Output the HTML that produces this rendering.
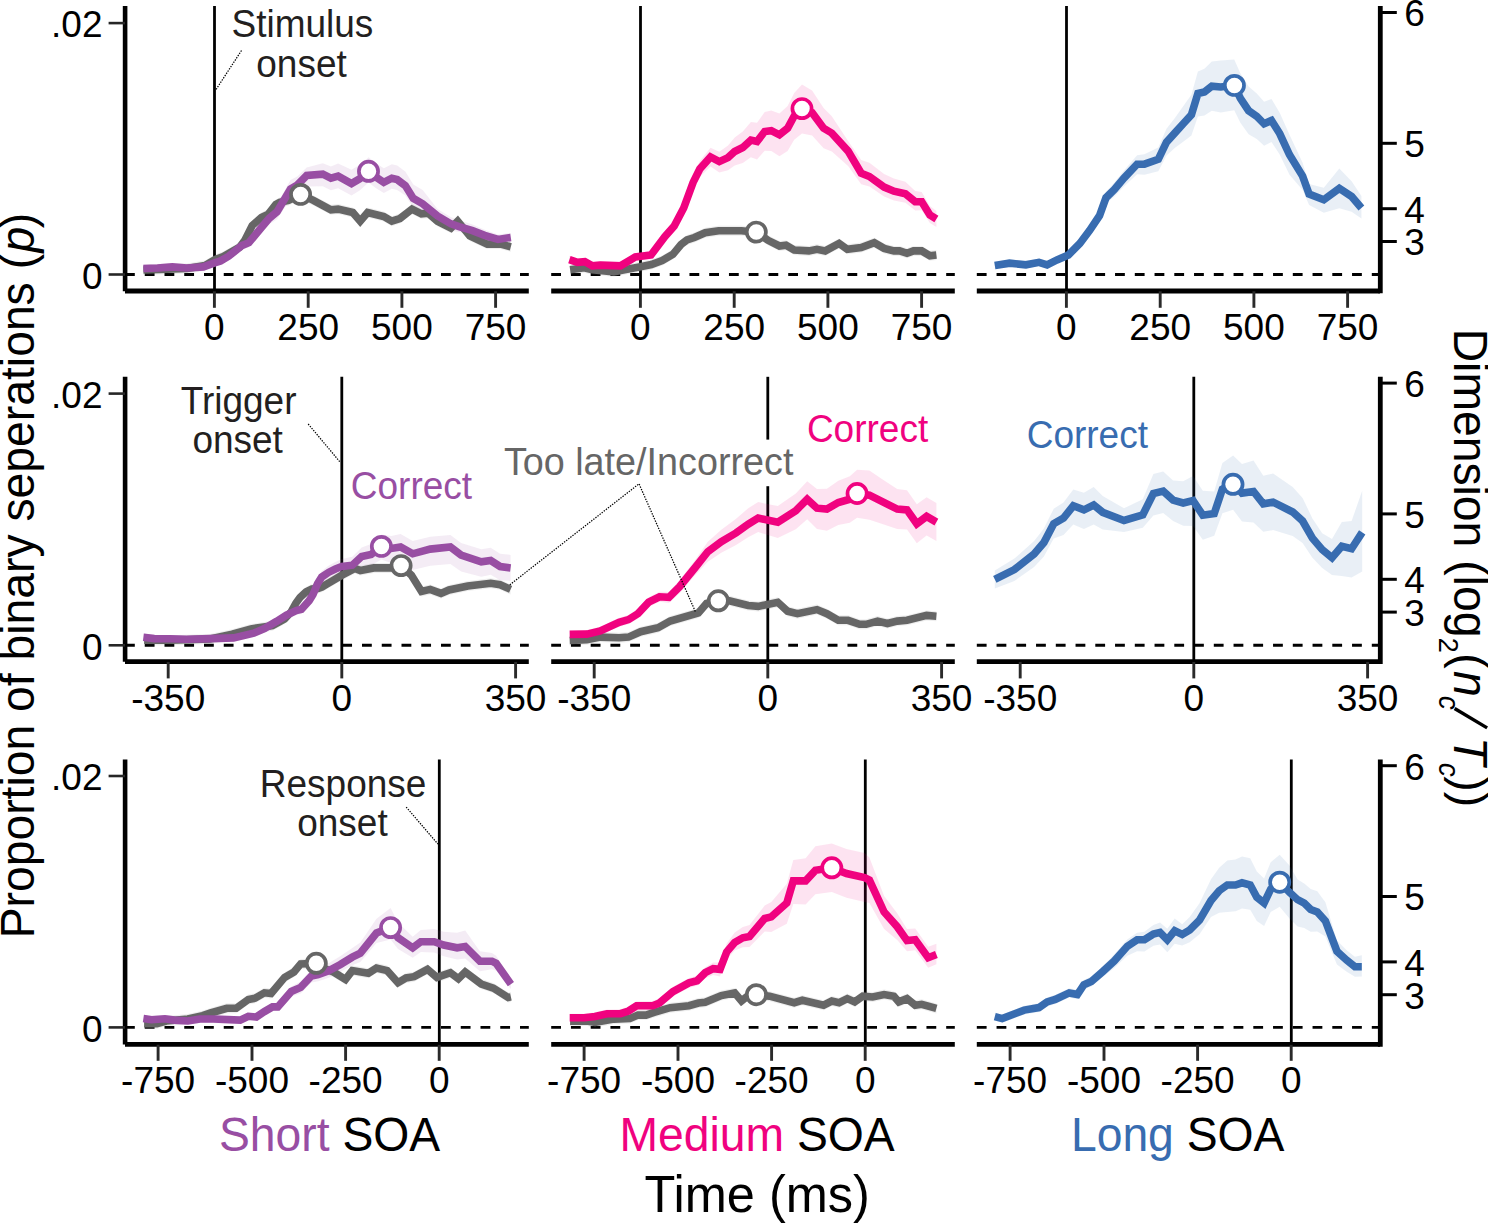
<!DOCTYPE html>
<html><head><meta charset="utf-8"><style>
html,body{margin:0;padding:0;background:#fff;}
svg{display:block;}
text{font-family:"Liberation Sans",sans-serif;}
</style></head><body>
<svg width="1488" height="1223" viewBox="0 0 1488 1223">
<rect width="1488" height="1223" fill="#fff"/>

<line x1="125.1" y1="6.0" x2="125.1" y2="291.2" stroke="#000" stroke-width="4.6"/>
<line x1="108.6" y1="23.1" x2="125" y2="23.1" stroke="#262626" stroke-width="2.6"/>
<line x1="108.6" y1="274.5" x2="125" y2="274.5" stroke="#262626" stroke-width="2.6"/>
<text x="102.5" y="37.3" font-size="37" text-anchor="end">.02</text>
<text x="102.5" y="288.7" font-size="37" text-anchor="end">0</text>
<line x1="1380.3" y1="6.0" x2="1380.3" y2="293.3" stroke="#000" stroke-width="4.8"/>
<line x1="1382" y1="12.5" x2="1396.8" y2="12.5" stroke="#000" stroke-width="3"/>
<text x="1404.2" y="26.3" font-size="37">6</text>
<line x1="1382" y1="143.3" x2="1396.8" y2="143.3" stroke="#000" stroke-width="3"/>
<text x="1404.2" y="157.1" font-size="37">5</text>
<line x1="1382" y1="208.7" x2="1396.8" y2="208.7" stroke="#000" stroke-width="3"/>
<text x="1404.2" y="222.5" font-size="37">4</text>
<line x1="1382" y1="241.5" x2="1396.8" y2="241.5" stroke="#000" stroke-width="3"/>
<text x="1404.2" y="255.3" font-size="37">3</text>
<line x1="125.0" y1="274.5" x2="528.8" y2="274.5" stroke="#000" stroke-width="2.9" stroke-dasharray="9.8 9.95"/>
<line x1="125.0" y1="291.0" x2="528.8" y2="291.0" stroke="#000" stroke-width="4.8"/>
<line x1="214.4" y1="291.3" x2="214.4" y2="307.8" stroke="#2a2a2a" stroke-width="2.9"/>
<text x="214.4" y="340.2" font-size="37" text-anchor="middle">0</text>
<line x1="308.2" y1="291.3" x2="308.2" y2="307.8" stroke="#2a2a2a" stroke-width="2.9"/>
<text x="308.2" y="340.2" font-size="37" text-anchor="middle">250</text>
<line x1="401.9" y1="291.3" x2="401.9" y2="307.8" stroke="#2a2a2a" stroke-width="2.9"/>
<text x="401.9" y="340.2" font-size="37" text-anchor="middle">500</text>
<line x1="495.6" y1="291.3" x2="495.6" y2="307.8" stroke="#2a2a2a" stroke-width="2.9"/>
<text x="495.6" y="340.2" font-size="37" text-anchor="middle">750</text>
<line x1="214.5" y1="6.0" x2="214.5" y2="291.0" stroke="#000" stroke-width="2.8"/>
<line x1="551.2" y1="274.5" x2="954.8" y2="274.5" stroke="#000" stroke-width="2.9" stroke-dasharray="9.8 9.95"/>
<line x1="551.2" y1="291.0" x2="954.8" y2="291.0" stroke="#000" stroke-width="4.8"/>
<line x1="640.4" y1="291.3" x2="640.4" y2="307.8" stroke="#2a2a2a" stroke-width="2.9"/>
<text x="640.4" y="340.2" font-size="37" text-anchor="middle">0</text>
<line x1="734.2" y1="291.3" x2="734.2" y2="307.8" stroke="#2a2a2a" stroke-width="2.9"/>
<text x="734.2" y="340.2" font-size="37" text-anchor="middle">250</text>
<line x1="827.9" y1="291.3" x2="827.9" y2="307.8" stroke="#2a2a2a" stroke-width="2.9"/>
<text x="827.9" y="340.2" font-size="37" text-anchor="middle">500</text>
<line x1="921.6" y1="291.3" x2="921.6" y2="307.8" stroke="#2a2a2a" stroke-width="2.9"/>
<text x="921.6" y="340.2" font-size="37" text-anchor="middle">750</text>
<line x1="640.5" y1="6.0" x2="640.5" y2="291.0" stroke="#000" stroke-width="2.8"/>
<line x1="976.8" y1="274.5" x2="1380.0" y2="274.5" stroke="#000" stroke-width="2.9" stroke-dasharray="9.8 9.95"/>
<line x1="976.8" y1="291.0" x2="1380.0" y2="291.0" stroke="#000" stroke-width="4.8"/>
<line x1="1066.4" y1="291.3" x2="1066.4" y2="307.8" stroke="#2a2a2a" stroke-width="2.9"/>
<text x="1066.4" y="340.2" font-size="37" text-anchor="middle">0</text>
<line x1="1160.2" y1="291.3" x2="1160.2" y2="307.8" stroke="#2a2a2a" stroke-width="2.9"/>
<text x="1160.2" y="340.2" font-size="37" text-anchor="middle">250</text>
<line x1="1253.9" y1="291.3" x2="1253.9" y2="307.8" stroke="#2a2a2a" stroke-width="2.9"/>
<text x="1253.9" y="340.2" font-size="37" text-anchor="middle">500</text>
<line x1="1347.6" y1="291.3" x2="1347.6" y2="307.8" stroke="#2a2a2a" stroke-width="2.9"/>
<text x="1347.6" y="340.2" font-size="37" text-anchor="middle">750</text>
<line x1="1066.5" y1="6.0" x2="1066.5" y2="291.0" stroke="#000" stroke-width="2.8"/>
<line x1="125.1" y1="376.8" x2="125.1" y2="661.8" stroke="#000" stroke-width="4.6"/>
<line x1="108.6" y1="393.6" x2="125" y2="393.6" stroke="#262626" stroke-width="2.6"/>
<line x1="108.6" y1="645.3" x2="125" y2="645.3" stroke="#262626" stroke-width="2.6"/>
<text x="102.5" y="407.8" font-size="37" text-anchor="end">.02</text>
<text x="102.5" y="659.5" font-size="37" text-anchor="end">0</text>
<line x1="1380.3" y1="376.8" x2="1380.3" y2="663.9" stroke="#000" stroke-width="4.8"/>
<line x1="1382" y1="383.1" x2="1396.8" y2="383.1" stroke="#000" stroke-width="3"/>
<text x="1404.2" y="396.9" font-size="37">6</text>
<line x1="1382" y1="513.9" x2="1396.8" y2="513.9" stroke="#000" stroke-width="3"/>
<text x="1404.2" y="527.7" font-size="37">5</text>
<line x1="1382" y1="579.3" x2="1396.8" y2="579.3" stroke="#000" stroke-width="3"/>
<text x="1404.2" y="593.1" font-size="37">4</text>
<line x1="1382" y1="612.1" x2="1396.8" y2="612.1" stroke="#000" stroke-width="3"/>
<text x="1404.2" y="625.9" font-size="37">3</text>
<line x1="125.0" y1="645.3" x2="528.8" y2="645.3" stroke="#000" stroke-width="2.9" stroke-dasharray="9.8 9.95"/>
<line x1="125.0" y1="661.6" x2="528.8" y2="661.6" stroke="#000" stroke-width="4.8"/>
<line x1="168.2" y1="661.9" x2="168.2" y2="678.4" stroke="#2a2a2a" stroke-width="2.9"/>
<text x="168.2" y="711.3" font-size="37" text-anchor="middle">-350</text>
<line x1="341.8" y1="661.9" x2="341.8" y2="678.4" stroke="#2a2a2a" stroke-width="2.9"/>
<text x="341.8" y="711.3" font-size="37" text-anchor="middle">0</text>
<line x1="515.6" y1="661.9" x2="515.6" y2="678.4" stroke="#2a2a2a" stroke-width="2.9"/>
<text x="515.6" y="711.3" font-size="37" text-anchor="middle">350</text>
<line x1="341.8" y1="376.8" x2="341.8" y2="661.6" stroke="#000" stroke-width="2.8"/>
<line x1="551.2" y1="645.3" x2="954.8" y2="645.3" stroke="#000" stroke-width="2.9" stroke-dasharray="9.8 9.95"/>
<line x1="551.2" y1="661.6" x2="954.8" y2="661.6" stroke="#000" stroke-width="4.8"/>
<line x1="594.2" y1="661.9" x2="594.2" y2="678.4" stroke="#2a2a2a" stroke-width="2.9"/>
<text x="594.2" y="711.3" font-size="37" text-anchor="middle">-350</text>
<line x1="767.8" y1="661.9" x2="767.8" y2="678.4" stroke="#2a2a2a" stroke-width="2.9"/>
<text x="767.8" y="711.3" font-size="37" text-anchor="middle">0</text>
<line x1="941.6" y1="661.9" x2="941.6" y2="678.4" stroke="#2a2a2a" stroke-width="2.9"/>
<text x="941.6" y="711.3" font-size="37" text-anchor="middle">350</text>
<line x1="767.8" y1="376.8" x2="767.8" y2="439.6" stroke="#000" stroke-width="2.8"/>
<line x1="767.8" y1="486.2" x2="767.8" y2="661.6" stroke="#000" stroke-width="2.8"/>
<line x1="976.8" y1="645.3" x2="1380.0" y2="645.3" stroke="#000" stroke-width="2.9" stroke-dasharray="9.8 9.95"/>
<line x1="976.8" y1="661.6" x2="1380.0" y2="661.6" stroke="#000" stroke-width="4.8"/>
<line x1="1020.2" y1="661.9" x2="1020.2" y2="678.4" stroke="#2a2a2a" stroke-width="2.9"/>
<text x="1020.2" y="711.3" font-size="37" text-anchor="middle">-350</text>
<line x1="1193.8" y1="661.9" x2="1193.8" y2="678.4" stroke="#2a2a2a" stroke-width="2.9"/>
<text x="1193.8" y="711.3" font-size="37" text-anchor="middle">0</text>
<line x1="1367.6" y1="661.9" x2="1367.6" y2="678.4" stroke="#2a2a2a" stroke-width="2.9"/>
<text x="1367.6" y="711.3" font-size="37" text-anchor="middle">350</text>
<line x1="1193.8" y1="376.8" x2="1193.8" y2="661.6" stroke="#000" stroke-width="2.8"/>
<line x1="125.1" y1="759.5" x2="125.1" y2="1044.6" stroke="#000" stroke-width="4.6"/>
<line x1="108.6" y1="776.0" x2="125" y2="776.0" stroke="#262626" stroke-width="2.6"/>
<line x1="108.6" y1="1027.4" x2="125" y2="1027.4" stroke="#262626" stroke-width="2.6"/>
<text x="102.5" y="790.2" font-size="37" text-anchor="end">.02</text>
<text x="102.5" y="1041.6" font-size="37" text-anchor="end">0</text>
<line x1="1380.3" y1="759.5" x2="1380.3" y2="1046.7" stroke="#000" stroke-width="4.8"/>
<line x1="1382" y1="765.7" x2="1396.8" y2="765.7" stroke="#000" stroke-width="3"/>
<text x="1404.2" y="779.5" font-size="37">6</text>
<line x1="1382" y1="896.5" x2="1396.8" y2="896.5" stroke="#000" stroke-width="3"/>
<text x="1404.2" y="910.3" font-size="37">5</text>
<line x1="1382" y1="961.9" x2="1396.8" y2="961.9" stroke="#000" stroke-width="3"/>
<text x="1404.2" y="975.7" font-size="37">4</text>
<line x1="1382" y1="994.7" x2="1396.8" y2="994.7" stroke="#000" stroke-width="3"/>
<text x="1404.2" y="1008.5" font-size="37">3</text>
<line x1="125.0" y1="1027.4" x2="528.8" y2="1027.4" stroke="#000" stroke-width="2.9" stroke-dasharray="9.8 9.95"/>
<line x1="125.0" y1="1044.4" x2="528.8" y2="1044.4" stroke="#000" stroke-width="4.8"/>
<line x1="158.1" y1="1044.7" x2="158.1" y2="1060.8" stroke="#2a2a2a" stroke-width="2.9"/>
<text x="158.1" y="1093.4" font-size="37" text-anchor="middle">-750</text>
<line x1="252.0" y1="1044.7" x2="252.0" y2="1060.8" stroke="#2a2a2a" stroke-width="2.9"/>
<text x="252.0" y="1093.4" font-size="37" text-anchor="middle">-500</text>
<line x1="345.6" y1="1044.7" x2="345.6" y2="1060.8" stroke="#2a2a2a" stroke-width="2.9"/>
<text x="345.6" y="1093.4" font-size="37" text-anchor="middle">-250</text>
<line x1="439.2" y1="1044.7" x2="439.2" y2="1060.8" stroke="#2a2a2a" stroke-width="2.9"/>
<text x="439.2" y="1093.4" font-size="37" text-anchor="middle">0</text>
<line x1="439.3" y1="759.5" x2="439.3" y2="1044.4" stroke="#000" stroke-width="2.8"/>
<line x1="551.2" y1="1027.4" x2="954.8" y2="1027.4" stroke="#000" stroke-width="2.9" stroke-dasharray="9.8 9.95"/>
<line x1="551.2" y1="1044.4" x2="954.8" y2="1044.4" stroke="#000" stroke-width="4.8"/>
<line x1="584.1" y1="1044.7" x2="584.1" y2="1060.8" stroke="#2a2a2a" stroke-width="2.9"/>
<text x="584.1" y="1093.4" font-size="37" text-anchor="middle">-750</text>
<line x1="678.0" y1="1044.7" x2="678.0" y2="1060.8" stroke="#2a2a2a" stroke-width="2.9"/>
<text x="678.0" y="1093.4" font-size="37" text-anchor="middle">-500</text>
<line x1="771.6" y1="1044.7" x2="771.6" y2="1060.8" stroke="#2a2a2a" stroke-width="2.9"/>
<text x="771.6" y="1093.4" font-size="37" text-anchor="middle">-250</text>
<line x1="865.2" y1="1044.7" x2="865.2" y2="1060.8" stroke="#2a2a2a" stroke-width="2.9"/>
<text x="865.2" y="1093.4" font-size="37" text-anchor="middle">0</text>
<line x1="865.3" y1="759.5" x2="865.3" y2="1044.4" stroke="#000" stroke-width="2.8"/>
<line x1="976.8" y1="1027.4" x2="1380.0" y2="1027.4" stroke="#000" stroke-width="2.9" stroke-dasharray="9.8 9.95"/>
<line x1="976.8" y1="1044.4" x2="1380.0" y2="1044.4" stroke="#000" stroke-width="4.8"/>
<line x1="1010.1" y1="1044.7" x2="1010.1" y2="1060.8" stroke="#2a2a2a" stroke-width="2.9"/>
<text x="1010.1" y="1093.4" font-size="37" text-anchor="middle">-750</text>
<line x1="1104.0" y1="1044.7" x2="1104.0" y2="1060.8" stroke="#2a2a2a" stroke-width="2.9"/>
<text x="1104.0" y="1093.4" font-size="37" text-anchor="middle">-500</text>
<line x1="1197.6" y1="1044.7" x2="1197.6" y2="1060.8" stroke="#2a2a2a" stroke-width="2.9"/>
<text x="1197.6" y="1093.4" font-size="37" text-anchor="middle">-250</text>
<line x1="1291.2" y1="1044.7" x2="1291.2" y2="1060.8" stroke="#2a2a2a" stroke-width="2.9"/>
<text x="1291.2" y="1093.4" font-size="37" text-anchor="middle">0</text>
<line x1="1291.3" y1="759.5" x2="1291.3" y2="1044.4" stroke="#000" stroke-width="2.8"/>
<polygon points="143.4,265.0 160.0,264.5 187.0,263.5 205.0,260.5 215.3,254.5 223.3,251.5 232.0,246.5 239.8,242.0 245.0,235.0 252.2,220.5 261.4,212.5 267.9,209.5 275.8,199.5 279.7,197.4 288.5,195.5 300.6,189.4 313.4,195.4 330.9,204.8 338.1,204.1 352.8,207.5 360.2,216.2 367.6,207.5 383.8,211.5 391.8,216.2 399.9,213.5 412.0,204.1 421.4,208.8 428.1,208.2 437.5,216.2 451.0,223.0 457.7,216.2 469.8,231.0 487.3,239.1 500.7,239.1 510.8,241.8 510.8,251.8 500.7,249.1 487.3,249.1 469.8,241.0 457.7,226.2 451.0,233.0 437.5,226.2 428.1,218.2 421.4,218.8 412.0,214.1 399.9,223.5 391.8,226.2 383.8,221.5 367.6,217.5 360.2,226.2 352.8,217.5 338.1,214.1 330.9,214.8 313.4,205.4 300.6,199.4 288.5,205.5 279.7,207.4 275.8,209.5 267.9,219.5 261.4,222.5 252.2,230.5 245.0,245.0 239.8,252.0 232.0,256.5 223.3,261.5 215.3,264.5 205.0,270.5 187.0,273.5 160.0,274.5 143.4,275.0" fill="#666666" fill-opacity="0.11"/>
<polygon points="143.4,264.5 157.5,264.0 172.3,262.9 187.0,264.0 203.2,262.9 215.3,258.6 220.6,256.9 228.7,252.2 242.2,241.2 248.9,237.8 261.0,221.9 269.0,211.6 277.1,204.1 290.5,180.0 297.3,176.4 306.7,167.5 322.8,163.2 330.9,166.4 338.1,163.6 351.5,169.7 359.6,164.9 368.6,157.2 375.7,162.9 383.8,168.3 391.8,164.2 397.2,165.6 405.3,171.6 413.3,184.4 422.7,190.1 437.5,208.9 451.0,217.2 459.0,220.0 472.5,224.5 484.6,229.7 498.0,234.4 510.8,232.9 510.8,241.4 498.0,243.8 484.6,240.1 472.5,235.7 459.0,232.1 451.0,230.7 437.5,224.8 422.7,211.8 413.3,207.4 405.3,195.6 397.2,189.9 391.8,188.7 383.8,193.1 375.7,188.0 368.6,182.6 359.6,190.6 351.5,195.6 338.1,188.2 330.9,190.2 322.8,186.2 306.7,186.5 297.3,195.4 290.5,199.0 277.1,219.2 269.0,224.4 261.0,233.4 248.9,247.3 242.2,249.5 228.7,260.2 220.6,264.9 215.3,266.6 203.2,270.9 187.0,272.0 172.3,270.9 157.5,272.0 143.4,272.5" fill="#984EA3" fill-opacity="0.11"/>
<polygon points="570.1,264.8 584.2,262.8 592.3,264.8 613.8,266.8 624.5,264.8 638.0,262.3 651.4,259.6 662.2,255.5 672.9,249.3 681.0,239.5 687.0,235.0 694.4,232.5 705.2,227.8 718.6,225.8 741.5,225.8 756.5,227.1 768.0,235.3 779.4,241.0 786.0,240.2 794.2,245.1 808.9,245.9 817.0,244.3 825.2,245.9 839.1,238.5 847.3,244.3 861.2,242.6 874.3,237.7 884.1,243.4 893.9,245.9 899.6,245.9 907.0,248.3 913.5,245.9 921.7,245.9 929.9,250.8 936.4,250.0 936.4,260.0 929.9,260.8 921.7,255.9 913.5,255.9 907.0,258.3 899.6,255.9 893.9,255.9 884.1,253.4 874.3,247.7 861.2,252.6 847.3,254.3 839.1,248.5 825.2,255.9 817.0,254.3 808.9,255.9 794.2,255.1 786.0,250.2 779.4,251.0 768.0,245.3 756.5,237.1 741.5,235.8 718.6,235.8 705.2,237.8 694.4,242.5 687.0,245.0 681.0,249.5 672.9,259.3 662.2,265.5 651.4,269.6 638.0,272.3 624.5,274.8 613.8,276.8 592.3,274.8 584.2,272.8 570.1,274.8" fill="#666666" fill-opacity="0.11"/>
<polygon points="569.4,255.7 577.5,258.4 584.9,257.7 592.3,261.8 600.3,261.1 620.5,261.8 635.3,253.0 651.0,251.0 664.8,232.6 674.2,222.1 683.7,203.3 693.1,175.8 699.8,161.0 710.5,147.8 719.3,151.7 728.0,145.5 734.7,137.6 742.8,131.4 750.9,122.0 757.0,122.8 764.7,112.0 771.3,110.5 779.4,113.6 787.6,106.0 794.2,93.0 802.0,84.6 812.1,90.5 823.6,108.1 831.8,116.3 848.1,141.1 861.2,160.1 869.4,162.7 884.1,174.1 893.9,178.6 905.4,181.8 915.2,191.1 921.7,192.0 929.9,206.1 936.4,211.0 936.4,227.0 929.9,223.1 921.7,210.3 915.2,210.5 905.4,202.7 893.9,200.5 884.1,196.6 869.4,186.4 861.2,184.3 848.1,166.1 831.8,151.5 823.6,148.3 812.1,135.4 802.0,133.6 794.2,139.8 787.6,150.9 779.4,156.3 771.3,150.9 764.7,150.7 757.0,159.6 750.9,157.2 742.8,163.1 734.7,165.4 728.0,170.2 719.3,172.5 710.5,166.5 699.8,177.0 693.1,189.0 683.7,212.7 674.2,230.1 664.8,240.6 651.0,259.0 635.3,261.0 620.5,269.8 600.3,269.1 592.3,269.8 584.9,265.7 577.5,266.4 569.4,263.7" fill="#F0027F" fill-opacity="0.11"/>
<polygon points="994.8,261.9 1009.5,259.5 1025.9,261.0 1039.0,258.5 1047.1,260.9 1057.0,256.0 1068.4,251.1 1079.8,239.5 1089.7,226.4 1099.5,210.5 1106.0,191.7 1114.2,182.8 1124.0,170.4 1137.1,155.2 1144.4,154.2 1158.3,147.5 1166.5,128.8 1174.7,118.2 1183.2,106.3 1191.4,94.8 1197.9,71.5 1204.4,68.7 1211.8,61.5 1220.8,60.6 1234.2,59.5 1240.4,73.3 1248.6,86.5 1256.8,93.4 1264.1,101.8 1271.5,99.1 1279.7,112.8 1289.5,134.8 1302.6,162.7 1309.1,184.1 1323.8,187.8 1339.3,168.5 1351.6,181.3 1361.4,196.0 1361.4,218.6 1351.6,211.7 1339.3,208.3 1323.8,212.8 1309.1,205.1 1302.6,190.1 1289.5,174.8 1279.7,154.4 1271.5,141.9 1264.1,145.8 1256.8,139.1 1248.6,134.2 1240.4,122.8 1234.2,110.3 1220.8,112.6 1211.8,110.8 1204.4,115.6 1197.9,116.5 1191.4,135.5 1183.2,141.7 1174.7,148.0 1166.5,155.4 1158.3,171.2 1144.4,174.8 1137.1,174.2 1124.0,186.4 1114.2,196.7 1106.0,203.7 1099.5,220.9 1089.7,234.4 1079.8,247.5 1068.4,258.9 1057.0,263.8 1047.1,268.7 1039.0,266.1 1025.9,268.6 1009.5,266.9 994.8,269.3" fill="#386CB0" fill-opacity="0.11"/>
<polygon points="144.1,635.3 170.3,635.3 210.0,634.0 232.2,629.2 251.0,623.9 272.5,620.7 284.6,614.0 291.0,607.0 296.0,598.0 300.0,592.5 306.0,587.0 312.0,584.0 318.0,583.5 322.0,582.0 327.0,579.0 333.0,575.5 342.0,570.2 354.9,563.5 360.3,565.6 373.8,562.9 391.2,562.9 401.3,560.9 411.4,570.3 421.5,586.4 430.2,584.4 441.0,588.4 449.0,585.0 467.8,581.0 490.7,578.3 500.1,579.7 510.6,584.4 510.6,594.4 500.1,589.7 490.7,588.3 467.8,591.0 449.0,595.0 441.0,598.4 430.2,594.4 421.5,596.4 411.4,580.3 401.3,570.9 391.2,572.9 373.8,572.9 360.3,575.6 354.9,573.5 342.0,580.2 333.0,585.5 327.0,589.0 322.0,592.0 318.0,593.5 312.0,594.0 306.0,597.0 300.0,602.5 296.0,608.0 291.0,617.0 284.6,624.0 272.5,630.7 251.0,633.9 232.2,639.2 210.0,644.0 170.3,645.3 144.1,645.3" fill="#666666" fill-opacity="0.11"/>
<polygon points="143.4,633.5 154.2,634.9 170.3,635.0 186.5,635.4 210.6,634.8 233.5,634.0 253.7,629.3 264.4,624.6 276.5,617.4 286.4,611.2 296.2,606.2 301.4,604.5 309.2,595.3 313.0,589.0 317.5,578.0 321.7,570.9 328.9,565.5 335.4,561.9 341.9,558.9 352.3,556.8 361.7,547.4 371.1,543.9 381.4,534.4 391.2,535.9 400.6,534.0 412.7,541.1 430.2,536.7 450.4,535.0 461.1,542.9 481.3,549.3 490.7,547.8 500.1,553.7 510.6,554.9 510.6,580.9 500.1,580.2 490.7,574.8 481.3,576.7 461.1,571.4 450.4,564.0 430.2,565.7 412.7,570.1 400.6,563.0 391.2,563.0 381.4,559.5 371.1,565.4 361.7,565.6 352.3,573.6 341.9,574.1 335.4,576.1 328.9,578.9 321.7,583.1 317.5,589.6 313.0,600.0 309.2,605.9 301.4,614.1 296.2,615.0 286.4,619.2 276.5,625.4 264.4,632.4 253.7,637.1 233.5,641.8 210.6,642.4 186.5,643.0 170.3,642.6 154.2,642.3 143.4,640.9" fill="#984EA3" fill-opacity="0.11"/>
<polygon points="569.7,635.5 586.9,634.8 600.3,632.1 619.1,632.8 628.5,632.1 640.6,626.7 658.1,622.7 670.2,616.0 698.4,607.9 706.5,598.5 718.3,595.8 729.4,595.8 748.2,600.5 758.2,601.4 777.8,597.3 787.6,606.3 797.4,608.7 817.0,604.6 826.9,608.7 838.3,615.3 848.1,615.3 859.6,619.3 866.1,619.3 877.6,616.1 887.4,618.5 897.2,616.1 907.0,615.3 926.6,610.4 936.4,611.2 936.4,621.2 926.6,620.4 907.0,625.3 897.2,626.1 887.4,628.5 877.6,626.1 866.1,629.3 859.6,629.3 848.1,625.3 838.3,625.3 826.9,618.7 817.0,614.6 797.4,618.7 787.6,616.3 777.8,607.3 758.2,611.4 748.2,610.5 729.4,605.8 718.3,605.8 706.5,608.5 698.4,617.9 670.2,626.0 658.1,632.7 640.6,636.7 628.5,642.1 619.1,642.8 600.3,642.1 586.9,644.8 569.7,645.5" fill="#666666" fill-opacity="0.11"/>
<polygon points="569.7,630.4 586.9,629.9 600.3,626.7 619.1,617.8 628.5,615.0 638.0,608.8 648.7,597.3 659.5,591.8 668.9,591.7 679.6,580.2 694.4,560.9 707.8,541.8 721.3,529.7 736.1,518.7 748.2,508.2 758.2,502.1 777.8,506.1 795.8,493.5 807.2,481.2 817.0,489.0 826.9,488.8 838.3,480.8 849.8,476.2 857.1,469.7 869.4,470.6 880.8,478.2 897.2,489.1 907.0,490.2 916.8,504.3 926.6,497.2 936.4,503.1 936.4,541.1 926.6,535.6 916.8,543.3 907.0,529.6 897.2,529.1 880.8,523.6 869.4,519.8 857.1,517.7 849.8,522.8 838.3,525.1 826.9,530.8 817.0,529.0 807.2,519.2 795.8,529.2 777.8,538.1 758.2,532.1 748.2,537.2 736.1,545.0 721.3,552.7 707.8,561.7 694.4,576.1 679.6,593.2 668.9,603.1 659.5,601.8 648.7,607.1 638.0,618.4 628.5,624.2 619.1,626.8 600.3,635.3 586.9,638.3 569.7,638.4" fill="#F0027F" fill-opacity="0.11"/>
<polygon points="994.8,570.4 1014.4,558.6 1034.1,541.0 1043.9,528.6 1053.7,508.8 1063.5,502.4 1073.3,489.4 1083.9,492.7 1093.7,487.0 1102.7,496.0 1124.0,508.2 1142.8,499.2 1153.4,473.9 1163.2,471.4 1173.1,480.4 1183.2,481.3 1193.0,476.0 1202.8,490.7 1214.2,491.5 1222.4,463.0 1233.1,455.5 1242.0,463.9 1253.5,460.6 1263.3,475.8 1273.1,473.5 1292.7,487.1 1302.6,497.9 1312.4,518.4 1322.2,533.2 1332.0,538.9 1341.8,521.9 1351.6,521.1 1362.2,490.7 1362.2,571.6 1351.6,577.5 1341.8,576.0 1332.0,574.9 1322.2,568.0 1312.4,557.7 1302.6,543.1 1292.7,536.1 1273.1,530.1 1263.3,531.8 1253.5,522.4 1242.0,521.6 1233.1,509.8 1222.4,513.2 1214.2,535.7 1202.8,539.8 1193.0,525.9 1183.2,525.7 1173.1,521.1 1163.2,513.1 1153.4,515.5 1142.8,527.8 1124.0,532.0 1102.7,529.6 1093.7,524.6 1083.9,529.1 1073.3,524.6 1063.5,534.9 1053.7,538.5 1043.9,556.5 1034.1,567.1 1014.4,581.0 994.8,588.4" fill="#386CB0" fill-opacity="0.11"/>
<polygon points="144.1,1018.7 156.9,1018.7 166.3,1016.0 187.8,1014.0 202.6,1010.7 210.6,1008.0 226.8,1003.3 236.2,1003.3 248.3,994.5 255.0,993.2 264.4,987.8 271.1,988.5 284.6,972.4 294.0,967.0 300.7,958.9 316.3,958.3 320.0,962.0 333.4,967.0 345.5,974.4 352.3,965.6 368.4,968.3 376.5,963.0 387.2,965.6 398.0,977.7 406.0,973.0 414.1,971.7 427.5,964.3 436.9,972.4 450.4,967.7 458.4,973.7 465.2,967.0 481.3,979.1 493.4,983.1 508.2,992.5 510.9,991.9 510.9,1001.9 508.2,1002.5 493.4,993.1 481.3,989.1 465.2,977.0 458.4,983.7 450.4,977.7 436.9,982.4 427.5,974.3 414.1,981.7 406.0,983.0 398.0,987.7 387.2,975.6 376.5,973.0 368.4,978.3 352.3,975.6 345.5,984.4 333.4,977.0 320.0,972.0 316.3,968.3 300.7,968.9 294.0,977.0 284.6,982.4 271.1,998.5 264.4,997.8 255.0,1003.2 248.3,1004.5 236.2,1013.3 226.8,1013.3 210.6,1018.0 202.6,1020.7 187.8,1024.0 166.3,1026.0 156.9,1028.7 144.1,1028.7" fill="#666666" fill-opacity="0.11"/>
<polygon points="143.4,1014.7 151.5,1016.0 164.9,1015.1 174.4,1016.3 187.8,1017.2 199.9,1015.2 213.3,1015.1 240.2,1016.2 248.3,1012.4 256.3,1013.1 264.4,1007.6 272.5,1002.9 277.8,1002.9 291.3,986.4 300.7,981.4 311.5,969.3 318.2,967.5 328.1,963.4 340.2,956.3 352.3,948.1 360.3,942.5 376.5,918.8 390.6,908.0 398.0,922.5 412.7,936.8 420.8,930.1 434.2,929.1 443.7,931.7 457.1,932.7 465.2,930.6 479.9,951.2 492.0,953.1 496.1,955.8 510.9,979.1 510.9,989.1 496.1,970.6 492.0,969.2 479.9,971.2 465.2,958.5 457.1,959.5 443.7,956.2 434.2,952.5 420.8,952.0 412.7,957.8 398.0,949.0 390.6,939.5 376.5,943.1 360.3,961.9 352.3,965.2 340.2,972.1 328.1,978.1 318.2,981.2 311.5,982.4 300.7,993.4 291.3,996.6 277.8,1010.9 272.5,1010.9 264.4,1015.6 256.3,1020.9 248.3,1020.2 240.2,1024.0 213.3,1022.9 199.9,1022.8 187.8,1024.8 174.4,1023.9 164.9,1022.5 151.5,1023.4 143.4,1022.1" fill="#984EA3" fill-opacity="0.11"/>
<polygon points="570.1,1016.1 586.9,1016.1 595.0,1017.5 613.8,1014.1 629.9,1013.4 638.0,1010.1 646.0,1010.1 654.1,1007.4 670.2,1002.7 689.0,1000.7 698.4,998.0 705.2,997.3 721.3,990.6 734.7,987.9 741.5,996.0 748.2,990.6 756.4,989.7 769.6,991.2 794.2,997.7 802.3,995.3 823.6,1000.2 831.8,996.1 839.1,997.7 847.3,993.6 854.7,996.9 862.8,991.2 872.6,992.0 884.1,989.5 893.9,991.2 898.8,996.9 907.0,993.6 915.2,1000.2 921.7,999.3 936.4,1003.4 936.4,1013.4 921.7,1009.3 915.2,1010.2 907.0,1003.6 898.8,1006.9 893.9,1001.2 884.1,999.5 872.6,1002.0 862.8,1001.2 854.7,1006.9 847.3,1003.6 839.1,1007.7 831.8,1006.1 823.6,1010.2 802.3,1005.3 794.2,1007.7 769.6,1001.2 756.4,999.7 748.2,1000.6 741.5,1006.0 734.7,997.9 721.3,1000.6 705.2,1007.3 698.4,1008.0 689.0,1010.7 670.2,1012.7 654.1,1017.4 646.0,1020.1 638.0,1020.1 629.9,1023.4 613.8,1024.1 595.0,1027.5 586.9,1026.1 570.1,1026.1" fill="#666666" fill-opacity="0.11"/>
<polygon points="569.7,1013.8 584.2,1013.7 595.0,1012.2 607.0,1009.4 620.5,1009.3 628.5,1006.5 636.6,1001.2 652.7,1001.1 659.5,998.3 672.9,986.8 689.0,977.9 697.1,975.8 705.2,967.2 713.2,962.4 720.0,962.4 726.7,943.5 734.7,932.4 742.8,926.9 749.5,925.0 764.7,905.5 771.3,902.1 786.8,883.8 793.3,859.9 805.6,858.2 815.4,846.3 831.8,843.6 846.5,849.1 864.5,853.0 869.4,857.5 884.1,896.0 897.2,913.3 907.0,929.1 915.2,928.5 928.2,946.8 936.4,943.8 936.4,964.3 928.2,967.7 915.2,950.2 907.0,951.2 897.2,940.0 884.1,929.0 869.4,902.9 864.5,902.1 846.5,897.8 831.8,892.0 815.4,894.3 805.6,904.5 793.3,903.9 786.8,923.8 771.3,932.1 764.7,931.5 749.5,947.0 742.8,947.2 734.7,950.6 726.7,959.4 720.0,976.4 713.2,975.0 705.2,978.2 697.1,985.8 689.0,987.7 672.9,996.4 659.5,1007.7 652.7,1010.3 636.6,1010.2 628.5,1015.5 620.5,1018.1 607.0,1018.0 595.0,1020.6 584.2,1021.9 569.7,1021.8" fill="#F0027F" fill-opacity="0.11"/>
<polygon points="994.8,1012.6 1002.2,1014.5 1024.2,1005.8 1039.0,1003.2 1047.1,997.4 1055.3,994.8 1069.2,988.2 1077.4,989.7 1083.9,979.9 1091.3,976.6 1102.7,966.3 1114.2,954.5 1127.3,939.5 1137.1,932.8 1144.4,931.8 1153.4,924.9 1160.0,922.4 1167.3,928.7 1174.7,918.5 1182.2,924.3 1189.7,916.9 1199.5,903.2 1211.0,879.3 1219.2,867.8 1227.3,860.4 1235.5,859.4 1242.0,856.5 1250.2,858.3 1256.8,871.5 1264.1,878.4 1270.7,862.2 1279.7,854.7 1289.5,865.5 1297.6,879.6 1304.2,883.4 1310.7,889.1 1317.3,891.3 1325.4,902.3 1336.9,940.4 1346.7,950.2 1354.9,956.7 1361.8,955.3 1361.8,976.5 1354.9,976.7 1346.7,971.7 1336.9,964.4 1325.4,936.4 1317.3,931.4 1310.7,931.7 1304.2,927.9 1297.6,926.6 1289.5,918.4 1279.7,906.7 1270.7,912.1 1264.1,926.0 1256.8,921.1 1250.2,909.7 1242.0,908.4 1235.5,911.2 1227.3,912.0 1219.2,912.7 1211.0,917.1 1199.5,934.2 1189.7,942.3 1182.2,945.4 1174.7,943.8 1167.3,952.3 1160.0,944.4 1153.4,945.8 1144.4,951.4 1137.1,951.2 1127.3,955.8 1114.2,968.0 1102.7,977.0 1091.3,986.4 1083.9,989.5 1077.4,999.3 1069.2,997.6 1055.3,1004.0 1047.1,1006.4 1039.0,1012.0 1024.2,1014.4 1002.2,1022.7 994.8,1020.6" fill="#386CB0" fill-opacity="0.11"/>
<polyline points="143.4,270.0 160.0,269.5 187.0,268.5 205.0,265.5 215.3,259.5 223.3,256.5 232.0,251.5 239.8,247.0 245.0,240.0 252.2,225.5 261.4,217.5 267.9,214.5 275.8,204.5 279.7,202.4 288.5,200.5 300.6,194.4 313.4,200.4 330.9,209.8 338.1,209.1 352.8,212.5 360.2,221.2 367.6,212.5 383.8,216.5 391.8,221.2 399.9,218.5 412.0,209.1 421.4,213.8 428.1,213.2 437.5,221.2 451.0,228.0 457.7,221.2 469.8,236.0 487.3,244.1 500.7,244.1 510.8,246.8" fill="none" stroke="#666666" stroke-width="7.6" stroke-linejoin="miter" stroke-miterlimit="3" stroke-linecap="butt"/>
<polyline points="143.4,268.5 157.5,268.0 172.3,266.9 187.0,268.0 203.2,266.9 215.3,262.6 220.6,260.9 228.7,256.2 242.2,245.4 248.9,242.7 261.0,228.0 269.0,218.5 277.1,211.8 290.5,189.0 297.3,185.0 306.7,175.5 322.8,174.2 330.9,178.2 338.1,176.2 351.5,183.6 359.6,178.9 368.6,171.2 375.7,176.9 383.8,182.3 391.8,178.2 397.2,179.6 405.3,185.6 413.3,198.4 422.7,203.8 437.5,215.9 451.0,223.9 459.0,226.6 472.5,230.6 484.6,235.3 498.0,239.4 510.8,237.4" fill="none" stroke="#984EA3" stroke-width="7.6" stroke-linejoin="miter" stroke-miterlimit="3" stroke-linecap="butt"/>
<circle cx="300.6" cy="194.4" r="9.6" fill="#fff" stroke="#666666" stroke-width="3.7"/>
<circle cx="368.5" cy="171.3" r="9.6" fill="#fff" stroke="#984EA3" stroke-width="3.7"/>
<polyline points="570.1,269.8 584.2,267.8 592.3,269.8 613.8,271.8 624.5,269.8 638.0,267.3 651.4,264.6 662.2,260.5 672.9,254.3 681.0,244.5 687.0,240.0 694.4,237.5 705.2,232.8 718.6,230.8 741.5,230.8 756.5,232.1 768.0,240.3 779.4,246.0 786.0,245.2 794.2,250.1 808.9,250.9 817.0,249.3 825.2,250.9 839.1,243.5 847.3,249.3 861.2,247.6 874.3,242.7 884.1,248.4 893.9,250.9 899.6,250.9 907.0,253.3 913.5,250.9 921.7,250.9 929.9,255.8 936.4,255.0" fill="none" stroke="#666666" stroke-width="7.6" stroke-linejoin="miter" stroke-miterlimit="3" stroke-linecap="butt"/>
<polyline points="569.4,259.7 577.5,262.4 584.9,261.7 592.3,265.8 600.3,265.1 620.5,265.8 635.3,257.0 651.0,255.0 664.8,236.6 674.2,226.1 683.7,208.0 693.1,182.4 699.8,169.0 710.5,156.9 719.3,161.6 728.0,157.6 734.7,151.5 742.8,147.5 750.9,140.1 757.0,141.5 764.7,131.5 771.3,130.7 779.4,134.8 787.6,128.2 794.2,116.0 802.0,108.6 812.1,112.7 823.6,128.2 831.8,133.1 848.1,151.1 861.2,173.2 869.4,176.5 884.1,187.1 893.9,191.2 905.4,193.7 915.2,201.8 921.7,201.8 929.9,214.9 936.4,219.0" fill="none" stroke="#F0027F" stroke-width="7.6" stroke-linejoin="miter" stroke-miterlimit="3" stroke-linecap="butt"/>
<circle cx="756.3" cy="232.1" r="9.6" fill="#fff" stroke="#666666" stroke-width="3.7"/>
<circle cx="802.0" cy="108.6" r="9.6" fill="#fff" stroke="#F0027F" stroke-width="3.7"/>
<polyline points="994.8,265.6 1009.5,263.2 1025.9,264.8 1039.0,262.3 1047.1,264.8 1057.0,259.9 1068.4,255.0 1079.8,243.5 1089.7,230.4 1099.5,215.7 1106.0,197.7 1114.2,189.6 1124.0,178.1 1137.1,164.2 1144.4,164.2 1158.3,159.3 1166.5,142.1 1174.7,133.1 1183.2,123.8 1191.4,114.8 1197.9,93.5 1204.4,91.9 1211.8,86.2 1220.8,87.0 1234.2,85.3 1240.4,98.4 1248.6,110.7 1256.8,116.4 1264.1,123.8 1271.5,120.5 1279.7,133.6 1289.5,154.8 1302.6,176.1 1309.1,194.1 1323.8,199.8 1339.3,188.4 1351.6,196.5 1361.4,208.0" fill="none" stroke="#386CB0" stroke-width="7.6" stroke-linejoin="miter" stroke-miterlimit="3" stroke-linecap="butt"/>
<circle cx="1234.4" cy="85.4" r="9.6" fill="#fff" stroke="#386CB0" stroke-width="3.7"/>
<polyline points="144.1,640.3 170.3,640.3 210.0,639.0 232.2,634.2 251.0,628.9 272.5,625.7 284.6,619.0 291.0,612.0 296.0,603.0 300.0,597.5 306.0,592.0 312.0,589.0 318.0,588.5 322.0,587.0 327.0,584.0 333.0,580.5 342.0,575.2 354.9,568.5 360.3,570.6 373.8,567.9 391.2,567.9 401.3,565.9 411.4,575.3 421.5,591.4 430.2,589.4 441.0,593.4 449.0,590.0 467.8,586.0 490.7,583.3 500.1,584.7 510.6,589.4" fill="none" stroke="#666666" stroke-width="7.6" stroke-linejoin="miter" stroke-miterlimit="3" stroke-linecap="butt"/>
<polyline points="143.4,637.2 154.2,638.6 170.3,638.8 186.5,639.2 210.6,638.6 233.5,637.9 253.7,633.2 264.4,628.5 276.5,621.4 286.4,615.2 296.2,610.6 301.4,609.3 309.2,600.6 313.0,594.5 317.5,583.8 321.7,577.0 328.9,572.2 335.4,569.0 341.9,566.5 352.3,565.2 361.7,556.5 371.1,554.4 381.4,546.4 391.2,548.4 400.6,547.0 412.7,553.8 430.2,549.1 450.4,547.0 461.1,555.1 481.3,561.8 490.7,560.5 500.1,566.5 510.6,567.9" fill="none" stroke="#984EA3" stroke-width="7.6" stroke-linejoin="miter" stroke-miterlimit="3" stroke-linecap="butt"/>
<circle cx="401.1" cy="565.6" r="9.6" fill="#fff" stroke="#666666" stroke-width="3.7"/>
<circle cx="381.4" cy="546.4" r="9.6" fill="#fff" stroke="#984EA3" stroke-width="3.7"/>
<polyline points="569.7,640.5 586.9,639.8 600.3,637.1 619.1,637.8 628.5,637.1 640.6,631.7 658.1,627.7 670.2,621.0 698.4,612.9 706.5,603.5 718.3,600.8 729.4,600.8 748.2,605.5 758.2,606.4 777.8,602.3 787.6,611.3 797.4,613.7 817.0,609.6 826.9,613.7 838.3,620.3 848.1,620.3 859.6,624.3 866.1,624.3 877.6,621.1 887.4,623.5 897.2,621.1 907.0,620.3 926.6,615.4 936.4,616.2" fill="none" stroke="#666666" stroke-width="7.6" stroke-linejoin="miter" stroke-miterlimit="3" stroke-linecap="butt"/>
<polyline points="569.7,634.4 586.9,634.1 600.3,631.0 619.1,622.3 628.5,619.6 638.0,613.6 648.7,602.2 659.5,596.8 668.9,597.4 679.6,586.7 694.4,568.5 707.8,551.7 721.3,541.7 736.1,532.9 748.2,524.2 758.2,518.1 777.8,522.1 795.8,510.7 807.2,499.2 817.0,508.2 826.9,509.1 838.3,502.5 849.8,499.2 857.1,493.5 869.4,495.2 880.8,500.9 897.2,509.1 907.0,509.9 916.8,523.8 926.6,516.4 936.4,522.1" fill="none" stroke="#F0027F" stroke-width="7.6" stroke-linejoin="miter" stroke-miterlimit="3" stroke-linecap="butt"/>
<circle cx="718.3" cy="600.8" r="9.6" fill="#fff" stroke="#666666" stroke-width="3.7"/>
<circle cx="857.1" cy="493.5" r="9.6" fill="#fff" stroke="#F0027F" stroke-width="3.7"/>
<polyline points="994.8,579.4 1014.4,569.6 1034.1,554.0 1043.9,542.6 1053.7,523.8 1063.5,518.1 1073.3,505.8 1083.9,509.9 1093.7,505.0 1102.7,512.3 1124.0,520.5 1142.8,514.8 1153.4,493.5 1163.2,491.1 1173.1,500.1 1183.2,503.0 1193.0,500.5 1202.8,515.2 1214.2,513.6 1222.4,489.1 1233.1,483.3 1242.0,493.1 1253.5,491.5 1263.3,503.8 1273.1,502.1 1292.7,512.0 1302.6,521.0 1312.4,538.1 1322.2,549.6 1332.0,557.7 1341.8,546.3 1351.6,548.7 1362.2,532.4" fill="none" stroke="#386CB0" stroke-width="7.6" stroke-linejoin="miter" stroke-miterlimit="3" stroke-linecap="butt"/>
<circle cx="1233.0" cy="484.3" r="9.6" fill="#fff" stroke="#386CB0" stroke-width="3.7"/>
<polyline points="144.1,1023.7 156.9,1023.7 166.3,1021.0 187.8,1019.0 202.6,1015.7 210.6,1013.0 226.8,1008.3 236.2,1008.3 248.3,999.5 255.0,998.2 264.4,992.8 271.1,993.5 284.6,977.4 294.0,972.0 300.7,963.9 316.3,963.3 320.0,967.0 333.4,972.0 345.5,979.4 352.3,970.6 368.4,973.3 376.5,968.0 387.2,970.6 398.0,982.7 406.0,978.0 414.1,976.7 427.5,969.3 436.9,977.4 450.4,972.7 458.4,978.7 465.2,972.0 481.3,984.1 493.4,988.1 508.2,997.5 510.9,996.9" fill="none" stroke="#666666" stroke-width="7.6" stroke-linejoin="miter" stroke-miterlimit="3" stroke-linecap="butt"/>
<polyline points="143.4,1018.4 151.5,1019.7 164.9,1018.8 174.4,1020.1 187.8,1021.0 199.9,1019.0 213.3,1019.0 240.2,1020.1 248.3,1016.3 256.3,1017.0 264.4,1011.6 272.5,1006.9 277.8,1006.9 291.3,991.5 300.7,987.4 311.5,976.0 318.2,974.5 328.1,971.0 340.2,964.6 352.3,957.2 360.3,953.2 376.5,933.0 390.6,927.6 398.0,937.7 412.7,947.8 420.8,941.7 434.2,941.7 443.7,945.1 457.1,947.8 465.2,946.5 479.9,961.2 492.0,961.2 496.1,963.3 510.9,984.1" fill="none" stroke="#984EA3" stroke-width="7.6" stroke-linejoin="miter" stroke-miterlimit="3" stroke-linecap="butt"/>
<circle cx="316.3" cy="963.3" r="9.6" fill="#fff" stroke="#666666" stroke-width="3.7"/>
<circle cx="390.6" cy="927.6" r="9.6" fill="#fff" stroke="#984EA3" stroke-width="3.7"/>
<polyline points="570.1,1021.1 586.9,1021.1 595.0,1022.5 613.8,1019.1 629.9,1018.4 638.0,1015.1 646.0,1015.1 654.1,1012.4 670.2,1007.7 689.0,1005.7 698.4,1003.0 705.2,1002.3 721.3,995.6 734.7,992.9 741.5,1001.0 748.2,995.6 756.4,994.7 769.6,996.2 794.2,1002.7 802.3,1000.3 823.6,1005.2 831.8,1001.1 839.1,1002.7 847.3,998.6 854.7,1001.9 862.8,996.2 872.6,997.0 884.1,994.5 893.9,996.2 898.8,1001.9 907.0,998.6 915.2,1005.2 921.7,1004.3 936.4,1008.4" fill="none" stroke="#666666" stroke-width="7.6" stroke-linejoin="miter" stroke-miterlimit="3" stroke-linecap="butt"/>
<polyline points="569.7,1017.8 584.2,1017.8 595.0,1016.4 607.0,1013.7 620.5,1013.7 628.5,1011.0 636.6,1005.7 652.7,1005.7 659.5,1003.0 672.9,991.6 689.0,982.8 697.1,980.8 705.2,972.7 713.2,968.7 720.0,969.4 726.7,951.9 734.7,942.5 742.8,937.8 749.5,936.5 764.7,918.5 771.3,916.9 786.8,903.0 793.3,880.9 805.6,880.9 815.4,870.3 831.8,867.8 846.5,873.5 864.5,877.6 869.4,880.1 884.1,912.0 897.2,926.7 907.0,940.6 915.2,939.8 928.2,957.7 936.4,954.5" fill="none" stroke="#F0027F" stroke-width="7.6" stroke-linejoin="miter" stroke-miterlimit="3" stroke-linecap="butt"/>
<circle cx="756.4" cy="994.7" r="9.6" fill="#fff" stroke="#666666" stroke-width="3.7"/>
<circle cx="831.8" cy="867.8" r="9.6" fill="#fff" stroke="#F0027F" stroke-width="3.7"/>
<polyline points="994.8,1016.6 1002.2,1018.6 1024.2,1010.1 1039.0,1007.6 1047.1,1001.9 1055.3,999.4 1069.2,992.9 1077.4,994.5 1083.9,984.7 1091.3,981.5 1102.7,971.6 1114.2,961.0 1127.3,946.3 1137.1,939.8 1144.4,939.8 1153.4,934.0 1160.0,932.4 1167.3,939.8 1174.7,930.8 1182.2,934.4 1189.7,929.9 1199.5,920.1 1211.0,900.5 1219.2,890.7 1227.3,885.0 1235.5,885.0 1242.0,882.8 1250.2,885.0 1256.8,897.2 1264.1,903.0 1270.7,889.1 1279.7,882.2 1289.5,892.3 1297.6,899.7 1304.2,903.0 1310.7,909.5 1317.3,912.0 1325.4,921.0 1336.9,951.2 1346.7,960.2 1354.9,966.7 1361.8,966.7" fill="none" stroke="#386CB0" stroke-width="7.6" stroke-linejoin="miter" stroke-miterlimit="3" stroke-linecap="butt"/>
<circle cx="1279.7" cy="882.2" r="9.6" fill="#fff" stroke="#386CB0" stroke-width="3.7"/>
<line x1="241.5" y1="50.5" x2="216.1" y2="89.4" stroke="#000" stroke-width="1.25" stroke-dasharray="1.4 1.25" fill="none"/>
<line x1="308.2" y1="424" x2="340" y2="462" stroke="#000" stroke-width="1.25" stroke-dasharray="1.4 1.25" fill="none"/>
<line x1="406.2" y1="807.1" x2="437.9" y2="844" stroke="#000" stroke-width="1.25" stroke-dasharray="1.4 1.25" fill="none"/>
<polyline points="509.8,584.8 639,483.8 695.4,611.7" stroke="#000" stroke-width="1.25" stroke-dasharray="1.4 1.25" fill="none"/>
<text transform="translate(231.5,37.4) scale(1.0,1.04)" font-size="37" fill="#231F20">Stimulus</text>
<text transform="translate(256.3,76.6) scale(1.0,1.04)" font-size="37" fill="#231F20">onset</text>
<text transform="translate(180.7,414.1) scale(1.0,1.04)" font-size="37" fill="#231F20">Trigger</text>
<text transform="translate(192.4,453.1) scale(1.0,1.04)" font-size="37" fill="#231F20">onset</text>
<text transform="translate(259.8,797.0) scale(1.0,1.04)" font-size="37" fill="#231F20">Response</text>
<text transform="translate(297.2,836.0) scale(1.0,1.04)" font-size="37" fill="#231F20">onset</text>
<text transform="translate(350.8,498.7) scale(1.0,1.04)" font-size="37" fill="#984EA3">Correct</text>
<text transform="translate(806.9,441.9) scale(1.0,1.04)" font-size="37" fill="#F0027F">Correct</text>
<text transform="translate(1026.7,447.9) scale(1.0,1.04)" font-size="37" fill="#386CB0">Correct</text>
<text transform="translate(503.9,475.0) scale(1.02,1.04)" font-size="37" fill="#666666">Too late/Incorrect</text>
<text transform="translate(218.9,1151.0) scale(1.0,1.04)" font-size="46.3" fill="#000"><tspan fill="#984EA3">Short</tspan> SOA</text>
<text transform="translate(619.5,1151.0) scale(1.0,1.04)" font-size="46.3" fill="#000"><tspan fill="#F0027F">Medium</tspan> SOA</text>
<text transform="translate(1070.9,1151.0) scale(1.0,1.04)" font-size="46.3" fill="#000"><tspan fill="#386CB0">Long</tspan> SOA</text>
<text transform="translate(644.6,1212.0) scale(1.0,1.04)" font-size="50.5" fill="#000">Time (ms)</text>
<text transform="translate(33.9,938.3) rotate(-90) scale(1,1.04)" font-size="46.3" fill="#000">Proportion of binary seperations (<tspan font-style="italic" dx="1.5">p</tspan><tspan dx="-1.5">)</tspan></text>
<g transform="translate(1454.3,328.7) rotate(90) scale(1,1.04)"><text x="0" y="0" font-size="46.3" fill="#000">Dimension (log</text><text x="309.0" y="14.9" font-size="27" fill="#000">2</text><text x="324.5" y="0" font-size="46.3" fill="#000">(</text><text x="342.2" y="0" font-size="46.3" font-style="italic" fill="#000">n</text><text x="367.0" y="14.9" font-size="28" font-style="italic" fill="#000">c</text><line x1="379.8" y1="-0.3" x2="399.2" y2="-31.6" stroke="#000" stroke-width="3.3"/><text x="408.3" y="0" font-size="46.3" font-style="italic" fill="#000">T</text><text x="434.1" y="14.9" font-size="28" font-style="italic" fill="#000">c</text><text x="447.6" y="0" font-size="46.3" fill="#000">))</text></g>
</svg></body></html>
